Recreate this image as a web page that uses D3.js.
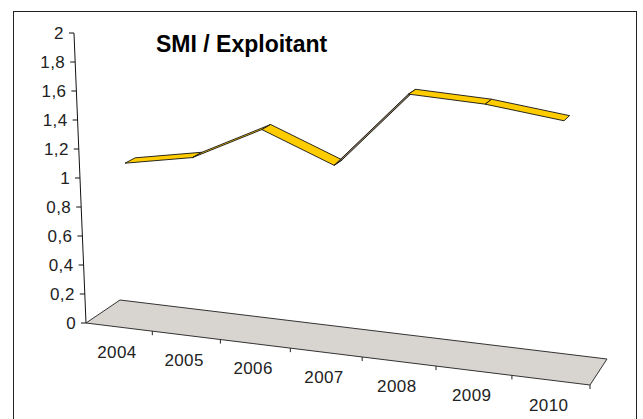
<!DOCTYPE html>
<html>
<head>
<meta charset="utf-8">
<script src="https://cdn.jsdelivr.net/npm/d3@7"></script>
<style>
  body { margin: 0; background: #fff; }
  text { font-family: "Liberation Sans", Arial, sans-serif; }
</style>
</head>
<body>
<div id="chartContainer"></div>
<script>
// SMI / Exploitant, 3D line chart
const years = ["2004", "2005", "2006", "2007", "2008", "2009", "2010"]
const smi = [1.08, 1.16, 1.39, 1.19, 1.70, 1.67, 1.60]
const valueTicks = [0, 0.2, 0.4, 0.6, 0.8, 1, 1.2, 1.4, 1.6, 1.8, 2]

const width = 643, height = 419

// floor corners on screen (front-left, front-right, back-left, back-right)
const FL = [86, 323], FR = [590, 385], BL = [120, 300], BR = [607, 359]
const persp = 0.1
const VP = [370, 7170]          // where the verticals meet, far below
const ribbon = [0.35, 0.65]     // depth of the line ribbon

let x = d3.scaleBand()
    .domain(years)
    .range([0, 1])

let y = d3.scaleLinear()
    .domain([0, 2])
    .range([0, 290])

const lerp = (a, b, t) => [a[0] + (b[0] - a[0]) * t, a[1] + (b[1] - a[1]) * t]
const warp = u => u / (1 + persp * (1 - u))
const grow = u => (1 + persp) / (1 + persp * (1 - u))

function project(u, w, v) {
  let fu = warp(u)
  let p = lerp(lerp(FL, FR, fu), lerp(BL, BR, fu), w)
  let h = y(v) * grow(u) * (1 - 0.034 * w)
  let lean = (p[0] - VP[0]) / (VP[1] - p[1])
  return [p[0] + lean * h, p[1] - h]
}

const fmt = d => String(d).replace(".", ",")

const svg = d3.select("#chartContainer")
  .append("svg")
  .attr("width", width)
  .attr("height", height)

svg.append("rect")
    .attr("x", 13.5).attr("y", 11.5)
    .attr("width", 623).attr("height", 420)
    .attr("fill", "#fff")
    .attr("stroke", "#222")

// floor
let floor = [project(0, 0, 0), project(1, 0, 0), project(1, 1, 0), project(0, 1, 0)]
svg.append("path")
    .attr("d", "M" + floor.join("L") + "Z")
    .attr("fill", "#d8d4d0")
    .attr("stroke", "#333")
    .attr("stroke-width", 1)

// category ticks along the front edge
let bounds = years.map(d => x(d)).concat([1])
svg.append("g")
  .selectAll("line")
  .data(bounds.slice(1))
  .join("line")
    .attr("x1", d => project(d, 0, 0)[0])
    .attr("x2", d => project(d, 0, 0)[0])
    .attr("y1", d => project(d, 0, 0)[1])
    .attr("y2", d => project(d, 0, 0)[1] + 4)
    .attr("stroke", "#222")

svg.append("g")
  .selectAll("text")
  .data(years)
  .join("text")
    .attr("x", d => project(x(d) + x.bandwidth() / 2, 0, 0)[0] - 2)
    .attr("y", d => project(x(d) + x.bandwidth() / 2, 0, 0)[1] + 24.5)
    .attr("dy", "0.35em")
    .attr("text-anchor", "middle")
    .attr("font-size", 17)
    .attr("letter-spacing", 0.4)
    .attr("fill", "#222")
    .text(d => d)

// value axis
let a0 = project(0, 0, 0), a1 = project(0, 0, 2)
svg.append("line")
    .attr("x1", a0[0]).attr("y1", a0[1])
    .attr("x2", a1[0]).attr("y2", a1[1])
    .attr("stroke", "#111")

let yAxis = svg.append("g")
  .selectAll("g")
  .data(valueTicks)
  .join("g")
    .attr("transform", d => `translate(${project(0, 0, d)})`)

yAxis.append("line")
    .attr("x1", -5).attr("x2", 0)
    .attr("stroke", "#111")

yAxis.append("text")
    .attr("x", -10)
    .attr("dy", "0.35em")
    .attr("text-anchor", "end")
    .attr("font-size", 17)
    .attr("letter-spacing", 0.4)
    .attr("fill", "#222")
    .text(fmt)

// the line as a flat ribbon
let centers = years.map(d => x(d) + x.bandwidth() / 2)
let segs = d3.pairs(d3.range(years.length)).map(([i, j]) => {
  let A = project(centers[i], ribbon[0], smi[i]),
      B = project(centers[j], ribbon[0], smi[j]),
      C = project(centers[j], ribbon[1], smi[j]),
      D = project(centers[i], ribbon[1], smi[i])
  let cross = (B[0] - A[0]) * (D[1] - A[1]) - (B[1] - A[1]) * (D[0] - A[0])
  return {pts: [A, B, C, D], top: cross < 0}
})

svg.append("g")
  .selectAll("path")
  .data(segs)
  .join("path")
    .attr("d", d => "M" + d.pts.join("L") + "Z")
    .attr("fill", d => d.top ? "#ffcc00" : "#8b7b5a")
    .attr("stroke", "#111")
    .attr("stroke-width", 0.9)
    .attr("stroke-linejoin", "round")

svg.append("text")
    .attr("x", 156)
    .attr("y", 52)
    .attr("font-size", 23)
    .attr("font-weight", "bold")
    .attr("fill", "#000")
    .text("SMI / Exploitant")
</script>
</body>
</html>
